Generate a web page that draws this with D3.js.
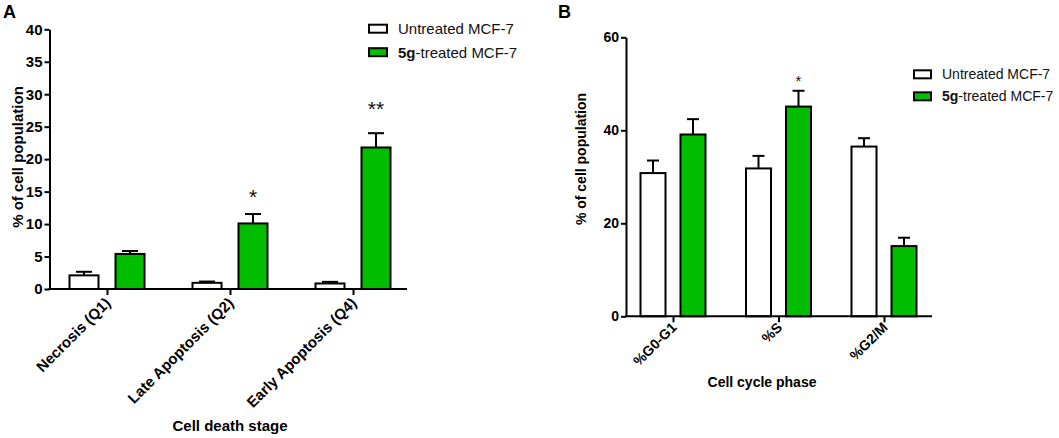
<!DOCTYPE html>
<html>
<head>
<meta charset="utf-8">
<script src="https://cdn.jsdelivr.net/npm/d3@7"></script>
<style>
  html, body { margin: 0; padding: 0; background: #fff; }
  svg { display: block; font-family: "Liberation Sans", Arial, Helvetica, sans-serif; }
</style>
</head>
<body>
<svg id="chart" width="1059" height="438"></svg>
<script>
// ---------- Data ----------
const seriesNames = ["Untreated MCF-7", "5g-treated MCF-7"];
const seriesKeys = ["untreated", "treated"];

// Panel A: cell death stage
const deathStages = ["Necrosis (Q1)", "Late Apoptosis (Q2)", "Early Apoptosis (Q4)"];
const deathUntreated = [2.1, 0.95, 0.85];
const deathUntreatedErr = [0.55, 0.2, 0.25];
const deathTreated = [5.4, 10.1, 21.8];
const deathTreatedErr = [0.45, 1.45, 2.2];
const deathStars = ["", "*", "**"];
const deathStarY = [0, 15, 28.5];
const deathTicks = [0, 5, 10, 15, 20, 25, 30, 35, 40];

// Panel B: cell cycle phase
const cyclePhases = ["%G0-G1", "%S", "%G2/M"];
const cycleUntreated = [30.8, 31.8, 36.5];
const cycleUntreatedErr = [2.7, 2.7, 1.8];
const cycleTreated = [39.1, 45.1, 15.1];
const cycleTreatedErr = [3.3, 3.4, 1.8];
const cycleStars = ["", "*", ""];
const cycleStarY = [0, 51.5, 0];
const cycleTicks = [0, 20, 40, 60];

const GREEN = "#00bd00";
const colors = { untreated: "#ffffff", treated: GREEN };

const svg = d3.select("#chart");
svg.append("rect").attr("width", 1059).attr("height", 438).attr("fill", "#fff");

function panel(cfg) {
  const g = svg.append("g");
  const y = d3.scaleLinear().domain(cfg.yDomain).range([cfg.y0, cfg.y1]);
  const x = d3.scalePoint().domain(cfg.categories).range(cfg.xRange);
  const xs = d3.scalePoint().domain(seriesKeys).range([-cfg.offset, cfg.offset]);

  const rows = [];
  cfg.categories.forEach((c, i) => {
    rows.push({ cat: c, key: "untreated", v: cfg.untreated[i], e: cfg.untreatedErr[i] });
    rows.push({ cat: c, key: "treated", v: cfg.treated[i], e: cfg.treatedErr[i] });
  });
  const bw = cfg.barWidth;
  const cap = cfg.capWidth;
  rows.forEach(r => {
    const cx = x(r.cat) + xs(r.key);
    g.append("line").attr("x1", cx).attr("x2", cx)
      .attr("y1", y(r.v)).attr("y2", y(r.v + r.e))
      .attr("stroke", "#000").attr("stroke-width", 2);
    g.append("line").attr("x1", cx - cap / 2).attr("x2", cx + cap / 2)
      .attr("y1", y(r.v + r.e)).attr("y2", y(r.v + r.e))
      .attr("stroke", "#000").attr("stroke-width", 2);
  });
  g.selectAll("rect.bar").data(rows).enter().append("rect")
    .attr("class", "bar")
    .attr("x", d => x(d.cat) + xs(d.key) - bw / 2)
    .attr("y", d => y(d.v))
    .attr("width", bw)
    .attr("height", d => y(0) - y(d.v))
    .attr("fill", d => colors[d.key])
    .attr("stroke", "#000").attr("stroke-width", 2);

  cfg.categories.forEach((c, i) => {
    if (!cfg.stars[i]) return;
    g.append("text")
      .attr("x", x(c) + xs("treated"))
      .attr("y", y(cfg.starY[i]))
      .attr("dy", "0.58em")
      .attr("text-anchor", "middle")
      .attr("font-size", cfg.starSize)
      .attr("fill", "#111")
      .text(cfg.stars[i]);
  });

  const ya = g.append("g").attr("transform", `translate(${cfg.axisX},0)`)
    .call(d3.axisLeft(y).tickValues(cfg.ticks).tickSize(5).tickSizeOuter(0).tickPadding(2).tickFormat(d3.format("d")));
  ya.select(".domain").attr("stroke-width", 2).attr("stroke", "#000");
  ya.selectAll(".tick line").attr("stroke-width", 2).attr("stroke", "#000");
  ya.selectAll(".tick text").attr("font-size", cfg.font).attr("font-weight", "bold")
    .attr("font-family", "Liberation Sans, Arial, sans-serif").attr("fill", "#000");

  const xa = g.append("g").attr("transform", `translate(0,${cfg.y0})`)
    .call(d3.axisBottom(x).tickSize(6).tickSizeOuter(0));
  xa.select(".domain").remove();
  xa.append("line").attr("x1", cfg.axisX - 1).attr("x2", cfg.axisEnd).attr("y1", 0).attr("y2", 0)
    .attr("stroke", "#000").attr("stroke-width", 2);
  xa.selectAll(".tick line").attr("stroke-width", 2).attr("stroke", "#000");
  xa.selectAll(".tick text")
    .attr("x", null).attr("y", null).attr("dy", null)
    .attr("text-anchor", "end")
    .attr("transform", `translate(${cfg.labelDx},${cfg.labelDy}) rotate(-45)`)
    .attr("font-size", cfg.font).attr("font-weight", "bold")
    .attr("font-family", "Liberation Sans, Arial, sans-serif").attr("fill", "#000");

  g.append("text")
    .attr("transform", `translate(${cfg.yTitleX},${cfg.yTitleY}) rotate(-90)`)
    .attr("text-anchor", "middle").attr("font-size", cfg.font).attr("font-weight", "bold")
    .text("% of cell population");
  g.append("text")
    .attr("x", cfg.xTitleX).attr("y", cfg.xTitleY)
    .attr("text-anchor", "middle").attr("font-size", cfg.font).attr("font-weight", "bold")
    .text(cfg.xTitle);

  g.append("text").attr("x", cfg.letterX).attr("y", 17.5)
    .attr("font-size", 18).attr("font-weight", "bold").text(cfg.letter);

  seriesKeys.forEach((k, i) => {
    const ly = cfg.legY + i * cfg.legStep;
    g.append("rect").attr("x", cfg.legX).attr("y", ly - cfg.font * 0.62)
      .attr("width", cfg.legW).attr("height", cfg.legH)
      .attr("fill", colors[k]).attr("stroke", "#000").attr("stroke-width", 2);
    const t = g.append("text").attr("x", cfg.legX + cfg.legW + 11).attr("y", ly)
      .attr("font-size", cfg.font).attr("fill", "#111");
    if (k === "treated") {
      t.append("tspan").attr("font-weight", "bold").text("5g");
      t.append("tspan").text("-treated MCF-7");
    } else {
      t.text(seriesNames[i]);
    }
  });
}

panel({
  categories: deathStages, untreated: deathUntreated, untreatedErr: deathUntreatedErr,
  treated: deathTreated, treatedErr: deathTreatedErr, stars: deathStars, starY: deathStarY,
  ticks: deathTicks, yDomain: [0, 40], y0: 289, y1: 29.3, xRange: [107, 353],
  offset: 23, barWidth: 29, capWidth: 16, axisX: 49.5, axisEnd: 407, font: 15, starSize: 21,
  labelDx: 4, labelDy: 15, yTitleX: 23, yTitleY: 157, xTitle: "Cell death stage", xTitleX: 230, xTitleY: 431,
  letter: "A", letterX: 3, legX: 369, legY: 34, legStep: 23.5, legW: 18, legH: 8
});

panel({
  categories: cyclePhases, untreated: cycleUntreated, untreatedErr: cycleUntreatedErr,
  treated: cycleTreated, treatedErr: cycleTreatedErr, stars: cycleStars, starY: cycleStarY,
  ticks: cycleTicks, yDomain: [0, 60], y0: 316.3, y1: 37.3, xRange: [673, 884],
  offset: 20, barWidth: 25, capWidth: 12, axisX: 626, axisEnd: 932, font: 14, starSize: 15,
  labelDx: 4, labelDy: 12, yTitleX: 586, yTitleY: 159, xTitle: "Cell cycle phase", xTitleX: 762, xTitleY: 387,
  letter: "B", letterX: 558, legX: 914, legY: 79, legStep: 22, legW: 17, legH: 8
});
</script>
</body>
</html>
